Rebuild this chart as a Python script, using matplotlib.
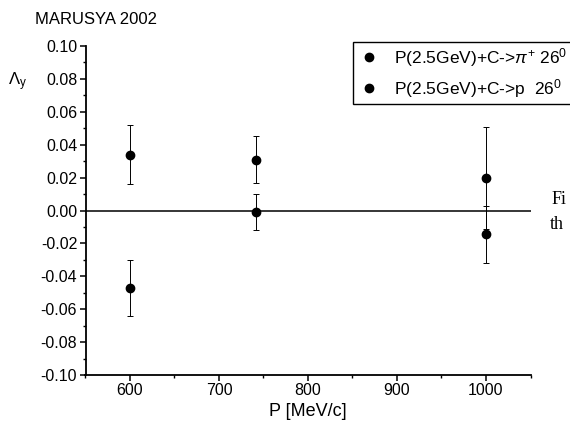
import matplotlib
matplotlib.use("Agg")
import matplotlib.pyplot as plt
from matplotlib.ticker import MultipleLocator
from matplotlib.lines import Line2D

plt.rcParams['font.family'] = ['Liberation Sans', 'DejaVu Sans']
plt.rcParams['mathtext.fontset'] = 'custom'
plt.rcParams['mathtext.rm'] = 'Liberation Sans'
plt.rcParams['mathtext.it'] = 'Liberation Sans:italic'

# data
p_pion = [600, 742, 1000]
a_pion = [0.034, 0.031, 0.020]
e_pion = [0.018, 0.014, 0.031]

p_prot = [600, 742, 1000]
a_prot = [-0.047, -0.001, -0.0145]
e_prot = [0.017, 0.011, 0.0175]

label_pion = r"P(2.5GeV)+C->$\pi^{+}$ 26$^{0}$"
label_prot = r"P(2.5GeV)+C->p  26$^{0}$"

fig = plt.figure(figsize=(5.70, 4.26), dpi=100)
ax = fig.add_axes([85.5/570, 1-375/426, (530.5-85.5)/570, (375-46)/426])

ax.axhline(0, color='black', lw=1.1, zorder=1)
ax.errorbar(p_pion, a_pion, yerr=e_pion, fmt='o', color='black', ms=6,
            elinewidth=0.7, capsize=2.5, capthick=0.7, zorder=3)
ax.errorbar(p_prot, a_prot, yerr=e_prot, fmt='o', color='black', ms=6,
            elinewidth=0.7, capsize=2.5, capthick=0.7, zorder=3)

ax.set_xlim(550, 1050)
ax.set_ylim(-0.10, 0.10)
ax.xaxis.set_major_locator(MultipleLocator(100))
ax.xaxis.set_minor_locator(MultipleLocator(50))
ax.yaxis.set_major_locator(MultipleLocator(0.02))
ax.yaxis.set_minor_locator(MultipleLocator(0.01))
ax.yaxis.set_major_formatter(plt.FuncFormatter(lambda v, p: f"{v + 0.0:.2f}" if abs(v) > 1e-9 else "0.00"))

for s in ['top', 'right']:
    ax.spines[s].set_visible(False)
for s in ['left', 'bottom']:
    ax.spines[s].set_linewidth(1.3)
ax.tick_params(which='major', direction='out', length=4, width=1.1, labelsize=11.5, pad=2)
ax.tick_params(which='minor', direction='out', length=2.5, width=1.0)

ax.set_xlabel("P [MeV/c]", fontsize=13, labelpad=3)
fig.text(8/570, 1-82/426, r"$\Lambda_{\rm y}$", fontsize=12, ha='left', va='center')
fig.text(35/570, 1-20/426, "MARUSYA 2002", fontsize=12, ha='left', va='center')

handles = [Line2D([], [], ls='none', marker='o', color='black', ms=6),
           Line2D([], [], ls='none', marker='o', color='black', ms=6)]
leg = ax.legend(handles, [label_pion, label_prot], loc='upper left',
                bbox_to_anchor=(353/570, 1-41.7/426),
                bbox_transform=fig.transFigure, fontsize=12.5, frameon=True,
                fancybox=False, edgecolor='black', handlelength=1.4,
                handletextpad=0.7, labelspacing=0.45, borderpad=0.25,
                borderaxespad=0, framealpha=1)
leg.get_frame().set_linewidth(1.0)

fig.text(552/570, 1-204/426, "Fi", fontsize=13, family='Liberation Serif', ha='left', va='baseline')
fig.text(550/570, 1-229/426, "th", fontsize=13, family='Liberation Serif', ha='left', va='baseline')

fig.savefig("out.png", dpi=100)
